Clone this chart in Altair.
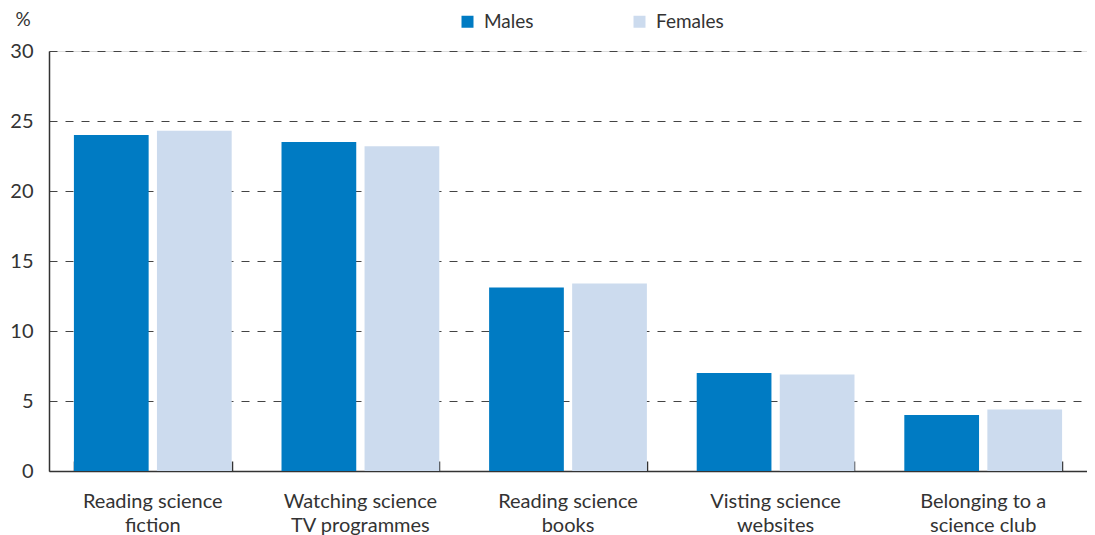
import altair as alt
import pandas as pd

categories = [
    "Reading science|fiction",
    "Watching science|TV programmes",
    "Reading science|books",
    "Visting science|websites",
    "Belonging to a|science club",
]
males = [24.0, 23.5, 13.1, 7.0, 4.0]
females = [24.3, 23.2, 13.4, 6.9, 4.4]
series = ["Males", "Females"]
colors = ["#007BC3", "#CCDBEE"]
y_ticks = [0, 5, 10, 15, 20, 25, 30]

rows = []
for c, m, f in zip(categories, males, females):
    rows.append({"cat": c, "sex": "Males", "value": m})
    rows.append({"cat": c, "sex": "Females", "value": f})
df = pd.DataFrame(rows)

W, H = 1038, 420
FONT = "Lato"
TXT = "#333333"
FS = 20

xscale = alt.Scale(domain=categories, paddingInner=0.24, paddingOuter=0.12)

bars = alt.Chart(df).mark_bar().encode(
    x=alt.X("cat:N", scale=xscale, sort=categories,
            axis=alt.Axis(title=None, labelExpr="split(datum.label, '|')",
                          labelAngle=0, ticks=False, labelPadding=20,
                          labelLineHeight=24, labelFontSize=FS, labelColor=TXT,
                          labelFont=FONT, domainColor="#333333", domainWidth=1.5,
                          labelBaseline="top")),
    xOffset=alt.XOffset("sex:N", sort=series,
                        scale=alt.Scale(domain=series, paddingInner=0.1)),
    y=alt.Y("value:Q",
            scale=alt.Scale(domain=[0, 30], nice=False),
            axis=alt.Axis(values=y_ticks, title="%", titleAngle=0,
                          titleX=-34, titleY=-22, titleAlign="left",
                          titleBaseline="bottom",
                          titleFontSize=19, titleFont=FONT, titleColor=TXT,
                          titleFontWeight="normal",
                          labelFontSize=FS, labelFont=FONT, labelColor=TXT,
                          labelPadding=16, ticks=False, grid=True,
                          gridDash=[8, 8], gridColor="#444444", gridWidth=1,
                          domainColor="#333333", domainWidth=1.5)),
    color=alt.Color("sex:N", sort=series,
                    scale=alt.Scale(domain=series, range=colors),
                    legend=alt.Legend(title=None, orient="none",
                                      direction="horizontal",
                                      legendX=409, legendY=-39,
                                      symbolType="square", symbolSize=144,
                                      symbolStrokeWidth=0,
                                      labelFontSize=19, labelFont=FONT,
                                      labelColor=TXT, columnPadding=96,
                                      labelOffset=7)),
)

# invisible layer carrying a second bottom axis that draws the inward ticks
tick_axis = alt.Chart(df).mark_bar(opacity=0).encode(
    x=alt.X("cat:N", scale=xscale, sort=categories,
            axis=alt.Axis(title=None, orient="bottom", offset=-10,
                          tickBand="extent", tickSize=10, tickWidth=1.5,
                          tickColor="#333333", domain=False, labels=False,
                          grid=False)),
    y=alt.Y("value:Q"),
)

chart = alt.layer(bars, tick_axis).resolve_axis(x="independent").properties(
    width=W, height=H,
    autosize=alt.AutoSizeParams(type="none"),
    padding={"left": 41, "top": 43, "right": 0, "bottom": 64},
).configure_view(stroke=None).configure(background="white")

chart.save("out.html", embed_options={"renderer": "svg", "actions": False})
